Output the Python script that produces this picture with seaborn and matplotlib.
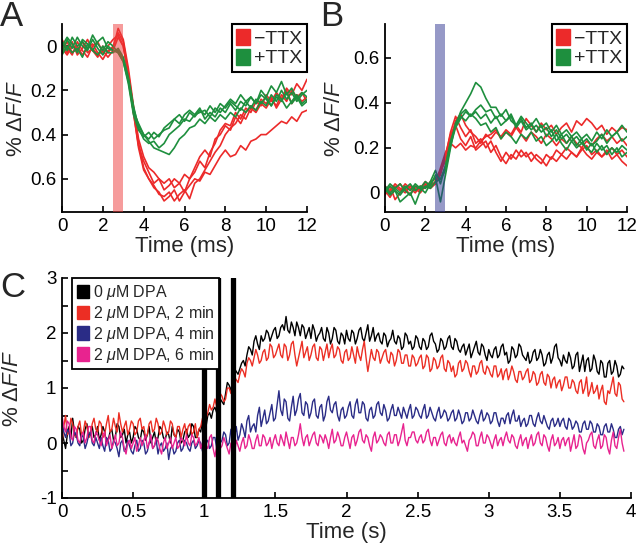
import numpy as np
import pandas as pd
import seaborn as sns
import matplotlib.pyplot as plt
from matplotlib.patches import Patch

# time bases
t_ms = np.linspace(0, 12, 49)        # panels A, B (ms)
t_s = np.linspace(0, 3.95, 317)      # panel C (s)

# Panel A: % dF/F (plotted on an inverted axis)
a_red = [
    [0.0, 0.03, -0.02, 0.04, 0.01, -0.03, 0.02, 0.05, 0.0, 0.03,
     0.0, -0.06, -0.02, 0.12, 0.28, 0.42, 0.5, 0.55, 0.57, 0.6,
     0.62, 0.6, 0.64, 0.62, 0.66, 0.6, 0.57, 0.52, 0.55, 0.48,
     0.44, 0.38, 0.35, 0.36, 0.3, 0.33, 0.28, 0.3, 0.25, 0.27,
     0.22, 0.25, 0.21, 0.24, 0.19, 0.22, 0.17, 0.2, 0.15],
    [0.02, -0.02, 0.03, 0.0, 0.04, 0.01, -0.01, 0.03, 0.06, 0.02,
     0.01, -0.08, -0.03, 0.1, 0.27, 0.44, 0.55, 0.6, 0.63, 0.67,
     0.68, 0.66, 0.7, 0.67, 0.65, 0.69, 0.62, 0.6, 0.56, 0.52,
     0.48, 0.45, 0.4, 0.37, 0.35, 0.31, 0.33, 0.28, 0.3, 0.26,
     0.28, 0.24, 0.27, 0.22, 0.25, 0.2, 0.23, 0.21, 0.25],
    [-0.03, 0.01, 0.04, -0.02, 0.02, 0.05, 0.0, -0.02, 0.03, 0.0,
     -0.03, -0.05, 0.0, 0.13, 0.3, 0.45, 0.52, 0.57, 0.62, 0.6,
     0.65, 0.63, 0.6, 0.62, 0.58, 0.6, 0.55, 0.5, 0.47, 0.5,
     0.42, 0.4, 0.36, 0.38, 0.32, 0.35, 0.3, 0.27, 0.29, 0.24,
     0.26, 0.23, 0.28, 0.24, 0.2, 0.26, 0.22, 0.25, 0.23],
    [0.01, 0.04, 0.0, 0.02, -0.02, 0.03, 0.01, 0.04, 0.02, 0.05,
     0.02, -0.04, 0.0, 0.14, 0.3, 0.46, 0.56, 0.6, 0.64, 0.66,
     0.7, 0.68, 0.65, 0.7, 0.66, 0.63, 0.6, 0.61, 0.57, 0.58,
     0.54, 0.5, 0.47, 0.5, 0.49, 0.45, 0.47, 0.43, 0.42, 0.4,
     0.4, 0.38, 0.36, 0.34, 0.35, 0.32, 0.34, 0.3, 0.29],
]
a_green = [
    [0.03, -0.03, 0.01, -0.04, 0.0, 0.02, -0.03, 0.01, 0.04, 0.0,
     0.02, 0.02, 0.06, 0.15, 0.28, 0.36, 0.4, 0.43, 0.46, 0.47,
     0.48, 0.49, 0.46, 0.42, 0.4, 0.37, 0.36, 0.33, 0.35, 0.32,
     0.34, 0.31, 0.33, 0.3, 0.32, 0.28, 0.3, 0.27, 0.29, 0.25,
     0.27, 0.22, 0.25, 0.2, 0.24, 0.21, 0.25, 0.22, 0.2],
    [-0.02, 0.02, -0.04, 0.0, -0.02, 0.01, -0.05, -0.01, 0.02, -0.02,
     0.0, 0.03, 0.07, 0.16, 0.3, 0.35, 0.4, 0.42, 0.39, 0.41,
     0.37, 0.35, 0.33, 0.35, 0.31, 0.29, 0.31, 0.28, 0.33, 0.3,
     0.32, 0.28, 0.3, 0.26, 0.29, 0.25, 0.27, 0.23, 0.26, 0.2,
     0.23, 0.18, 0.21, 0.16, 0.22, 0.19, 0.24, 0.21, 0.23],
    [0.04, 0.0, 0.03, 0.01, 0.05, -0.01, 0.02, 0.04, 0.0, 0.03,
     0.03, 0.01, 0.05, 0.14, 0.27, 0.37, 0.42, 0.44, 0.43, 0.46,
     0.44, 0.4, 0.38, 0.36, 0.33, 0.34, 0.31, 0.3, 0.29, 0.32,
     0.28, 0.3, 0.27, 0.24, 0.26, 0.22, 0.25, 0.23, 0.26, 0.22,
     0.24, 0.27, 0.23, 0.25, 0.21, 0.26, 0.23, 0.27, 0.25],
    [0.0, -0.04, -0.01, 0.03, -0.03, -0.01, 0.02, -0.02, -0.04, 0.01,
     0.02, 0.03, 0.07, 0.17, 0.31, 0.38, 0.41, 0.39, 0.42, 0.4,
     0.38, 0.37, 0.33, 0.31, 0.34, 0.3, 0.32, 0.29, 0.31, 0.27,
     0.3, 0.26, 0.28, 0.25, 0.27, 0.29, 0.25, 0.28, 0.24, 0.26,
     0.23, 0.27, 0.22, 0.24, 0.28, 0.25, 0.22, 0.26, 0.24],
]

# Panel B
b_red = [
    [0.02, 0.0, 0.03, 0.01, 0.04, 0.02, 0.0, 0.03, 0.02, 0.05,
     0.06, 0.1, 0.14, 0.24, 0.32, 0.35, 0.3, 0.27, 0.25, 0.22,
     0.26, 0.24, 0.27, 0.25, 0.28, 0.26, 0.3, 0.27, 0.33, 0.3,
     0.27, 0.31, 0.28, 0.3, 0.26, 0.29, 0.31, 0.27, 0.32, 0.3,
     0.33, 0.31, 0.28, 0.3, 0.26, 0.29, 0.27, 0.29, 0.28],
    [-0.01, 0.03, -0.03, 0.0, 0.02, -0.01, 0.03, 0.01, 0.04, 0.02,
     0.04, 0.08, 0.16, 0.27, 0.34, 0.29, 0.25, 0.28, 0.22, 0.24,
     0.2, 0.23, 0.18, 0.14, 0.18, 0.15, 0.19, 0.16, 0.18, 0.14,
     0.17, 0.15, 0.12, 0.16, 0.14, 0.17, 0.15, 0.18, 0.16, 0.2,
     0.17, 0.15, 0.18, 0.16, 0.19, 0.15, 0.17, 0.14, 0.12],
    [0.03, 0.01, 0.04, 0.02, 0.0, 0.03, 0.01, 0.02, 0.05, 0.03,
     0.05, 0.09, 0.17, 0.26, 0.3, 0.24, 0.21, 0.25, 0.19, 0.21,
     0.23, 0.18, 0.21, 0.16, 0.13, 0.17, 0.15, 0.19, 0.16, 0.18,
     0.15, 0.13, 0.17, 0.15, 0.19, 0.17, 0.2, 0.18, 0.16, 0.19,
     0.21, 0.17, 0.19, 0.16, 0.18, 0.2, 0.17, 0.19, 0.16],
    [0.01, -0.02, 0.02, 0.04, 0.01, 0.03, 0.02, 0.0, 0.03, 0.04,
     0.04, 0.11, 0.18, 0.22, 0.2, 0.22, 0.19, 0.21, 0.2, 0.23,
     0.25, 0.26, 0.28, 0.24, 0.27, 0.25, 0.29, 0.26, 0.23, 0.27,
     0.25, 0.22, 0.26, 0.24, 0.21, 0.24, 0.22, 0.25, 0.22, 0.2,
     0.23, 0.21, 0.24, 0.26, 0.23, 0.25, 0.22, 0.24, 0.21],
]
b_green = [
    [0.0, 0.03, 0.01, -0.01, 0.02, 0.04, 0.01, 0.03, 0.02, 0.05,
     0.1, 0.04, 0.12, 0.22, 0.3, 0.36, 0.4, 0.44, 0.49, 0.47,
     0.42, 0.38, 0.38, 0.34, 0.37, 0.32, 0.3, 0.34, 0.31, 0.28,
     0.3, 0.27, 0.29, 0.25, 0.28, 0.24, 0.26, 0.23, 0.25, 0.22,
     0.24, 0.21, 0.23, 0.26, 0.22, 0.25, 0.27, 0.23, 0.25],
    [0.03, 0.0, 0.02, 0.04, 0.01, -0.01, 0.03, 0.02, 0.0, 0.04,
     0.07, -0.04, 0.08, 0.2, 0.31, 0.35, 0.37, 0.34, 0.36, 0.33,
     0.35, 0.31, 0.34, 0.3, 0.32, 0.35, 0.3, 0.33, 0.29, 0.31,
     0.27, 0.3, 0.25, 0.28, 0.23, 0.26, 0.22, 0.25, 0.21, 0.24,
     0.19, 0.22, 0.18, 0.21, 0.17, 0.2, 0.18, 0.21, 0.19],
    [0.02, -0.01, 0.01, -0.04, -0.02, 0.0, -0.05, 0.01, 0.03, 0.02,
     0.05, 0.06, 0.12, 0.23, 0.3, 0.34, 0.32, 0.35, 0.33, 0.3,
     0.31, 0.27, 0.29, 0.24, 0.27, 0.25, 0.22, 0.26, 0.24, 0.27,
     0.23, 0.25, 0.21, 0.23, 0.26, 0.22, 0.19, 0.23, 0.2, 0.22,
     0.2, 0.18, 0.22, 0.19, 0.21, 0.17, 0.2, 0.16, 0.18],
    [0.01, 0.04, 0.02, 0.0, 0.03, 0.01, 0.04, 0.02, 0.05, 0.03,
     0.08, 0.06, 0.1, 0.21, 0.29, 0.33, 0.36, 0.34, 0.37, 0.39,
     0.36, 0.37, 0.33, 0.35, 0.32, 0.34, 0.29, 0.32, 0.28, 0.3,
     0.33, 0.29, 0.31, 0.27, 0.3, 0.26, 0.28, 0.25, 0.27, 0.24,
     0.26, 0.23, 0.27, 0.24, 0.28, 0.25, 0.27, 0.3, 0.27],
]

# Panel C
c_labels = ['0 $\\mu$M DPA', '2 $\\mu$M DPA, 2 min',
            '2 $\\mu$M DPA, 4 min', '2 $\\mu$M DPA, 6 min']
c_black = [
    0.2, 0.05, -0.1, 0.15, 0.3, 0.1, 0.45, 0.2, 0.1, 0.3, 0.25, 0.0, 0.05, 0.25, 0.35, 0.1, 0.2, 0.3, 0.1, 0.15,
    0.3, 0.05, 0.15, 0.3, 0.2, 0.0, 0.05, 0.2, 0.25, 0.05, 0.1, 0.35, 0.3, 0.1, 0.15, 0.25, 0.0, 0.15, 0.2, 0.0,
    0.1, 0.3, 0.25, 0.1, 0.05, 0.25, 0.2, 0.05, 0.15, 0.3, 0.0, 0.1, 0.2, 0.0, 0.1, 0.3, 0.25, 0.1, 0.05, 0.2,
    0.15, 0.0, 0.3, 0.15, 0.1, 0.25, 0.2, 0.0, 0.05, 0.2, 0.25, 0.1, 0.15, 0.35, 0.3, 0.1, 0.1, 0.25, 0.2, 0.4,
    0.35, 0.3, 0.5, 0.55, 0.45, 0.6, 0.65, 0.55, 0.6, 0.8, 0.75, 0.7, 0.9, 1.1, 1.05, 0.95, 1.15, 1.35, 1.3, 1.25,
    1.35, 1.45, 1.5, 1.4, 1.6, 1.75, 1.7, 1.6, 1.85, 1.95, 1.8, 1.7, 1.95, 1.85, 1.9, 2.05, 2.0, 1.85, 1.95, 2.05,
    2.1, 1.9, 1.95, 2.1, 2.15, 2.05, 2.3, 2.05, 2.0, 2.2, 2.1, 1.95, 2.2, 2.1, 1.95, 2.15, 2.1, 1.9, 2.0, 2.1,
    1.9, 2.15, 2.05, 1.85, 1.95, 2.0, 2.1, 1.9, 1.85, 2.1, 2.0, 1.8, 1.9, 2.1, 2.05, 1.85, 1.8, 2.0, 1.95, 1.8,
    2.05, 1.9, 1.85, 2.05, 2.0, 1.8, 1.9, 2.05, 2.1, 1.9, 1.85, 2.0, 2.15, 1.85, 1.95, 2.1, 1.85, 1.95, 2.0, 1.85,
    1.8, 2.0, 1.95, 1.75, 1.85, 1.9, 2.05, 1.85, 1.8, 1.95, 1.9, 1.7, 1.75, 2.0, 1.95, 1.8, 1.85, 1.7, 1.75, 1.95,
    1.9, 1.75, 1.7, 1.9, 1.85, 1.7, 1.75, 1.95, 2.0, 1.85, 1.8, 1.65, 1.7, 1.9, 1.85, 1.7, 1.75, 1.9, 1.95, 1.75,
    1.7, 1.9, 1.85, 1.7, 1.65, 1.75, 1.8, 1.6, 1.7, 1.8, 1.55, 1.65, 1.75, 1.85, 1.65, 1.6, 1.8, 1.75, 1.6, 1.5,
    1.7, 1.6, 1.55, 1.7, 1.75, 1.55, 1.6, 1.75, 1.8, 1.6, 1.65, 1.45, 1.5, 1.75, 1.7, 1.55, 1.6, 1.8, 1.75, 1.6,
    1.55, 1.5, 1.65, 1.45, 1.5, 1.65, 1.7, 1.5, 1.55, 1.7, 1.6, 1.4, 1.45, 1.6, 1.65, 1.45, 1.55, 1.75, 1.8, 1.55,
    1.5, 1.4, 1.6, 1.5, 1.45, 1.65, 1.55, 1.35, 1.4, 1.6, 1.65, 1.3, 1.45, 1.6, 1.3, 1.5, 1.55, 1.3, 1.35, 1.6,
    1.5, 1.3, 1.25, 1.5, 1.45, 1.2, 1.2, 1.45, 1.5, 1.25, 1.3, 1.5, 1.4, 1.2, 1.25, 1.4, 1.35,
]
c_red = [
    0.0, 0.3, 0.5, 0.15, 0.2, 0.45, 0.35, 0.15, 0.1, 0.3, 0.4, 0.15, 0.2, 0.4, 0.3, 0.1, 0.15, 0.35, 0.45, 0.25,
    0.2, 0.4, 0.35, 0.1, 0.15, 0.35, 0.5, 0.2, 0.25, 0.45, 0.3, 0.2, 0.55, 0.35, 0.2, 0.3, 0.4, 0.15, 0.25, 0.4,
    0.35, 0.15, 0.2, 0.4, 0.45, 0.25, 0.3, 0.1, 0.15, 0.35, 0.4, 0.2, 0.25, 0.45, 0.35, 0.15, 0.2, 0.4, 0.3, 0.15,
    0.2, 0.4, 0.35, 0.15, 0.1, 0.3, 0.3, 0.1, 0.25, 0.35, 0.15, 0.3, 0.35, 0.15, 0.2, 0.35, 0.1, 0.25, 0.3, 0.45,
    0.5, 0.45, 0.55, 0.7, 0.6, 0.65, 0.8, 0.65, 0.7, 0.9, 0.85, 0.75, 0.8, 1.0, 1.0, 0.9, 1.05, 1.2, 1.15, 1.1,
    1.25, 1.35, 1.3, 1.2, 1.45, 1.55, 1.5, 1.4, 1.55, 1.7, 1.6, 1.45, 1.5, 1.65, 1.7, 1.5, 1.55, 1.8, 1.75, 1.55,
    1.6, 1.7, 1.8, 1.6, 1.55, 1.8, 1.75, 1.5, 1.6, 1.8, 1.85, 1.6, 1.4, 1.55, 1.7, 1.85, 1.55, 1.65, 1.75, 1.5,
    1.6, 1.75, 1.8, 1.55, 1.5, 1.75, 1.7, 1.5, 1.65, 1.8, 1.55, 1.7, 1.8, 1.55, 1.6, 1.75, 1.7, 1.5, 1.45, 1.65,
    1.7, 1.5, 1.55, 1.75, 1.6, 1.45, 1.75, 1.6, 1.5, 1.7, 1.85, 1.55, 1.3, 1.5, 1.7, 1.55, 1.5, 1.7, 1.65, 1.45,
    1.55, 1.65, 1.7, 1.5, 1.45, 1.65, 1.6, 1.4, 1.5, 1.7, 1.65, 1.45, 1.45, 1.6, 1.6, 1.4, 1.4, 1.6, 1.55, 1.4,
    1.45, 1.55, 1.6, 1.35, 1.4, 1.6, 1.55, 1.3, 1.35, 1.55, 1.5, 1.35, 1.4, 1.55, 1.6, 1.35, 1.3, 1.5, 1.45, 1.3,
    1.4, 1.2, 1.25, 1.45, 1.5, 1.3, 1.35, 1.5, 1.45, 1.3, 1.2, 1.4, 1.4, 1.25, 1.3, 1.45, 1.5, 1.3, 1.25, 1.4,
    1.35, 1.25, 1.2, 1.4, 1.4, 1.2, 1.25, 1.35, 1.15, 1.3, 1.35, 1.15, 1.25, 1.4, 1.3, 1.15, 1.1, 1.3, 1.3, 1.15,
    1.2, 1.3, 1.35, 1.1, 1.15, 1.3, 1.25, 1.05, 1.1, 1.25, 1.3, 1.1, 1.05, 1.25, 1.2, 1.0, 1.15, 1.2, 1.0, 1.1,
    1.15, 0.95, 1.05, 1.2, 1.2, 1.0, 1.0, 1.15, 1.1, 0.95, 0.9, 1.1, 1.15, 0.9, 1.0, 1.2, 0.85, 0.95, 1.1, 0.9,
    0.95, 1.05, 0.8, 0.95, 1.05, 0.75, 0.7, 0.95, 0.9, 1.05, 1.2, 0.9, 0.85, 1.1, 1.05, 0.8, 0.75,
]
c_blue = [
    0.4, 0.2, 0.1, 0.25, 0.2, -0.05, 0.0, 0.2, 0.15, 0.0, -0.05, 0.15, 0.1, -0.1, 0.0, 0.15, 0.2, 0.0, -0.05, 0.1,
    0.0, -0.1, 0.1, -0.05, -0.15, 0.1, 0.05, -0.15, -0.1, 0.05, 0.0, -0.1, -0.25, 0.0, 0.05, -0.15, -0.1, 0.05, -0.05, -0.15,
    -0.2, -0.05, 0.05, -0.15, -0.1, 0.05, 0.0, -0.2, -0.15, 0.0, 0.1, -0.1, -0.05, 0.05, -0.2, -0.05, 0.0, -0.15, -0.1, 0.0,
    -0.3, -0.1, -0.05, -0.2, -0.15, 0.0, 0.05, -0.15, -0.1, 0.05, 0.0, -0.1, -0.15, 0.0, 0.05, -0.1, -0.05, 0.05, 0.0, -0.15,
    -0.1, 0.0, 0.05, -0.1, -0.05, 0.1, 0.1, -0.1, -0.2, 0.0, 0.05, 0.2, 0.15, -0.05, 0.0, 0.25, 0.2, 0.1, 0.3, 0.05,
    0.15, 0.35, 0.25, 0.1, 0.4, 0.5, 0.2, 0.3, 0.35, 0.2, 0.5, 0.65, 0.3, 0.45, 0.6, 0.35, 0.4, 0.55, 0.7, 0.4,
    0.45, 0.7, 0.95, 0.6, 0.5, 0.8, 0.75, 0.45, 0.4, 0.65, 0.85, 0.5, 0.6, 0.8, 0.9, 0.55, 0.5, 0.75, 0.7, 0.45,
    0.55, 0.75, 0.8, 0.5, 0.45, 0.65, 0.7, 0.4, 0.5, 0.75, 0.85, 0.6, 0.55, 0.7, 0.75, 0.5, 0.4, 0.6, 0.65, 0.45,
    0.5, 0.65, 0.75, 0.5, 0.45, 0.7, 0.8, 0.55, 0.55, 0.75, 0.7, 0.45, 0.4, 0.6, 0.65, 0.45, 0.5, 0.7, 0.75, 0.55,
    0.5, 0.7, 0.6, 0.4, 0.45, 0.6, 0.7, 0.5, 0.5, 0.65, 0.55, 0.45, 0.65, 0.55, 0.45, 0.6, 0.7, 0.45, 0.5, 0.65,
    0.6, 0.5, 0.45, 0.6, 0.7, 0.45, 0.5, 0.65, 0.55, 0.45, 0.4, 0.55, 0.65, 0.45, 0.5, 0.6, 0.55, 0.4, 0.45, 0.55,
    0.6, 0.4, 0.45, 0.6, 0.5, 0.35, 0.4, 0.55, 0.55, 0.4, 0.45, 0.6, 0.5, 0.4, 0.35, 0.5, 0.6, 0.4, 0.45, 0.55,
    0.5, 0.35, 0.4, 0.55, 0.55, 0.4, 0.3, 0.45, 0.45, 0.35, 0.5, 0.55, 0.35, 0.5, 0.6, 0.4, 0.4, 0.5, 0.3, 0.4,
    0.45, 0.3, 0.35, 0.5, 0.5, 0.35, 0.3, 0.45, 0.55, 0.4, 0.35, 0.5, 0.4, 0.3, 0.25, 0.4, 0.45, 0.3, 0.35, 0.45,
    0.3, 0.4, 0.45, 0.3, 0.25, 0.45, 0.4, 0.25, 0.3, 0.4, 0.35, 0.2, 0.2, 0.35, 0.4, 0.25, 0.25, 0.4, 0.35, 0.2,
    0.2, 0.35, 0.3, 0.15, 0.15, 0.3, 0.35, 0.2, 0.2, 0.35, 0.25, 0.1, 0.1, 0.25, 0.3, 0.15, 0.25,
]
c_pink = [
    0.5, 0.3, 0.2, 0.4, 0.35, 0.1, 0.05, 0.3, 0.25, 0.05, 0.0, 0.15, 0.2, 0.0, 0.1, 0.3, 0.3, 0.05, 0.0, 0.2,
    0.15, 0.05, -0.05, 0.15, 0.2, -0.05, 0.05, 0.15, -0.1, 0.0, 0.15, -0.05, 0.0, 0.2, 0.1, -0.1, -0.2, 0.0, 0.05, -0.1,
    0.0, 0.1, -0.15, -0.05, 0.1, -0.05, 0.05, 0.15, -0.1, 0.0, 0.15, -0.1, -0.05, 0.1, 0.05, -0.1, -0.2, 0.0, 0.1, -0.1,
    0.0, 0.1, -0.1, 0.0, 0.1, -0.1, -0.05, 0.1, 0.05, -0.05, 0.15, 0.0, -0.05, 0.15, 0.1, -0.05, 0.0, 0.1, -0.1, 0.0,
    0.05, -0.05, -0.1, 0.1, 0.15, -0.1, -0.25, -0.05, 0.1, -0.1, -0.05, 0.1, 0.0, -0.1, -0.2, 0.0, -0.1, -0.2, 0.05, -0.05,
    -0.15, 0.0, 0.1, -0.1, -0.05, 0.15, 0.05, -0.1, -0.1, 0.05, 0.15, -0.05, -0.05, 0.15, 0.1, -0.05, 0.0, 0.1, -0.1, 0.05,
    0.15, 0.0, -0.05, 0.15, 0.05, -0.05, 0.2, 0.05, -0.1, 0.1, 0.1, -0.05, 0.0, 0.15, 0.35, 0.1, -0.05, 0.1, 0.15, -0.05,
    0.05, 0.15, 0.2, 0.0, -0.05, 0.15, 0.1, 0.0, 0.15, 0.05, -0.1, 0.1, 0.25, 0.0, 0.05, 0.2, 0.1, -0.05, -0.05, 0.1,
    0.2, 0.05, -0.1, 0.1, 0.15, -0.05, 0.05, 0.2, 0.25, 0.05, 0.0, 0.15, 0.1, -0.05, -0.15, 0.1, 0.2, 0.0, 0.05, 0.15,
    0.1, 0.0, -0.05, 0.15, 0.2, 0.0, 0.0, 0.15, 0.15, -0.05, 0.05, 0.2, 0.35, 0.05, -0.05, 0.1, 0.1, 0.2, 0.2, 0.05,
    0.0, 0.1, 0.15, 0.0, 0.05, 0.2, 0.25, 0.05, -0.05, 0.1, 0.1, -0.05, 0.05, 0.15, 0.2, 0.0, -0.05, 0.1, 0.15, 0.0,
    0.1, 0.0, -0.05, 0.1, 0.2, 0.0, 0.05, -0.05, -0.15, 0.05, 0.1, 0.2, 0.15, -0.05, -0.05, 0.1, 0.2, 0.0, 0.0, 0.15,
    0.1, 0.0, -0.1, 0.05, 0.15, -0.05, 0.05, 0.1, -0.05, 0.1, 0.2, 0.05, 0.0, 0.15, 0.1, -0.05, -0.1, 0.05, 0.15, -0.05,
    0.05, 0.1, -0.1, 0.05, 0.15, -0.05, 0.0, 0.15, 0.2, 0.0, -0.05, 0.15, 0.1, -0.05, -0.15, 0.05, 0.15, -0.05, 0.0, 0.1,
    -0.1, 0.05, 0.1, -0.05, 0.05, 0.1, -0.15, 0.0, 0.15, -0.1, -0.05, 0.15, 0.1, -0.1, -0.2, 0.0, 0.05, 0.15, 0.2, -0.05,
    -0.1, 0.05, 0.15, -0.1, -0.05, 0.15, 0.1, -0.1, -0.2, 0.05, 0.2, -0.05, -0.1, 0.1, 0.25, 0.0, -0.15,
]
stim_times = [1.0, 1.1, 1.2]

RED = '#ec2a2a'
GREEN = '#1e8f3e'
C_COLORS = ['#000000', '#ec2e24', '#2a2c86', '#e8238f']

sns.set_style('ticks')
plt.rcParams['font.family'] = ['Liberation Sans', 'DejaVu Sans']
plt.rcParams['mathtext.fontset'] = 'custom'
plt.rcParams['mathtext.rm'] = 'Liberation Sans'
plt.rcParams['mathtext.it'] = 'Liberation Sans:italic'
plt.rcParams['axes.unicode_minus'] = False

YLAB = '% $\\mathit{\\Delta F/F}$'


def long_form(t, red, green):
    parts = []
    for k, y in enumerate(red):
        parts.append(pd.DataFrame({'t': t, 'v': y, 'cond': '\u2212TTX', 'unit': k}))
    for k, y in enumerate(green):
        parts.append(pd.DataFrame({'t': t, 'v': y, 'cond': '+TTX', 'unit': 10 + k}))
    return pd.concat(parts, ignore_index=True)


def style_axes(ax):
    sns.despine(ax=ax)
    for s in ['left', 'bottom']:
        ax.spines[s].set_linewidth(1.3)
        ax.spines[s].set_color('black')
    ax.tick_params(direction='in', length=4, width=1.2, labelsize=13.5,
                   colors='black', pad=4)


def ttx_legend(ax):
    handles = [Patch(color=RED), Patch(color=GREEN)]
    leg = ax.legend(handles, ['\u2212TTX', '+TTX'], loc='upper right',
                    bbox_to_anchor=(1.0, 1.0), borderaxespad=0, fontsize=14,
                    frameon=True, fancybox=False, framealpha=1,
                    handlelength=0.7, handleheight=0.9, handletextpad=0.2,
                    labelspacing=0.05, borderpad=0.25)
    leg.get_frame().set_edgecolor('black')
    leg.get_frame().set_linewidth(1.5)


fig = plt.figure(figsize=(6.4, 5.5), dpi=100)

# ---- Panel A
axA = fig.add_axes([62 / 640, 1 - 212 / 550, 245 / 640, 188 / 550])
dfA = long_form(t_ms, a_red, a_green)
sns.lineplot(data=dfA, x='t', y='v', hue='cond', units='unit', estimator=None,
             palette={'\u2212TTX': RED, '+TTX': GREEN}, lw=1.2, legend=False,
             sort=False, ax=axA)
axA.axvspan(2.5, 3.0, color='#ee3b3b', alpha=0.5, lw=0, zorder=5)
axA.set_xlim(0, 12)
axA.set_ylim(0.75, -0.1)
axA.set_xticks(range(0, 13, 2))
axA.set_yticks([0, 0.2, 0.4, 0.6])
axA.set_yticklabels(['0', '0.2', '0.4', '0.6'])
axA.set_xlabel('Time (ms)', fontsize=16, labelpad=1)
axA.set_ylabel(YLAB, fontsize=16, labelpad=2)
style_axes(axA)
ttx_legend(axA)

# ---- Panel B
axB = fig.add_axes([385 / 640, 1 - 212 / 550, 242 / 640, 188 / 550])
dfB = long_form(t_ms, b_red, b_green)
sns.lineplot(data=dfB, x='t', y='v', hue='cond', units='unit', estimator=None,
             palette={'\u2212TTX': RED, '+TTX': GREEN}, lw=1.2, legend=False,
             sort=False, ax=axB)
axB.axvspan(2.5, 3.0, color='#2e3590', alpha=0.5, lw=0, zorder=5)
axB.set_xlim(0, 12)
axB.set_ylim(-0.085, 0.75)
axB.set_xticks(range(0, 13, 2))
axB.set_yticks([0, 0.2, 0.4, 0.6])
axB.set_yticklabels(['0', '0.2', '0.4', '0.6'])
axB.set_xlabel('Time (ms)', fontsize=16, labelpad=1)
axB.set_ylabel(YLAB, fontsize=16, labelpad=6)
style_axes(axB)
ttx_legend(axB)

# ---- Panel C
axC = fig.add_axes([62 / 640, 1 - 498 / 550, 569 / 640, 220 / 550])
dfC = pd.concat([pd.DataFrame({'t': t_s, 'v': y, 'cond': lab})
                 for lab, y in zip(c_labels, [c_black, c_red, c_blue, c_pink])],
                ignore_index=True)
sns.lineplot(data=dfC, x='t', y='v', hue='cond', estimator=None,
             palette=dict(zip(c_labels, C_COLORS)), lw=1.0, legend=False,
             sort=False, ax=axC)
for st in stim_times:
    axC.axvline(st, color='black', lw=3.8, zorder=5)
axC.set_xlim(0, 4)
axC.set_ylim(-1, 3)
axC.set_xticks(np.arange(0, 4.01, 0.5))
axC.set_xticklabels(['0', '0.5', '1', '1.5', '2', '2.5', '3', '3.5', '4'])
axC.set_yticks(np.arange(-1, 3.01, 0.5))
axC.set_yticklabels(['-1', '', '0', '', '1', '', '2', '', '3'])
axC.set_xlabel('Time (s)', fontsize=16, labelpad=1)
axC.set_ylabel(YLAB, fontsize=16, labelpad=12)
style_axes(axC)
handles = [Patch(color=c) for c in C_COLORS]
legC = axC.legend(handles, c_labels, loc='upper left',
                  bbox_to_anchor=(10 / 569, 1.0), borderaxespad=0, fontsize=11.5,
                  frameon=True, fancybox=False, framealpha=1,
                  handlelength=0.75, handleheight=0.9, handletextpad=0.25,
                  labelspacing=0.12, borderpad=0.3)
legC.get_frame().set_edgecolor('black')
legC.get_frame().set_linewidth(1.3)
legC.set_zorder(10)

# panel letters
fig.text(0 / 640, 1 - 26 / 550, 'A', fontsize=25, va='baseline')
fig.text(320 / 640, 1 - 26 / 550, 'B', fontsize=25, va='baseline')
fig.text(0 / 640, 1 - 297 / 550, 'C', fontsize=25, va='baseline')

fig.savefig('out.png', dpi=100)
